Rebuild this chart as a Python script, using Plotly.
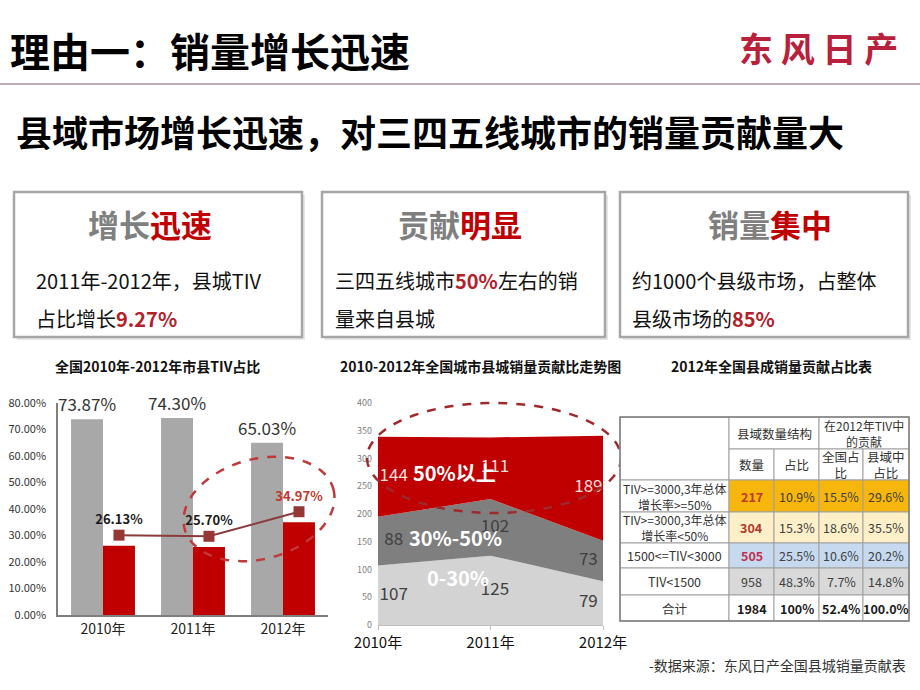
import numpy as np
import plotly.graph_objects as go

W, H = 920, 690
FONT = "Noto Sans CJK SC"

# ---------------- data ----------------
years = ["2010年", "2011年", "2012年"]
city_tiv = [73.87, 74.30, 65.03]          # grey bars
county_tiv = [26.13, 25.70, 34.97]        # red bars / line
county_label_colors = ["#1a1a1a", "#1a1a1a", "#c0392b"]

band_names = ["0-30%", "30%-50%", "50%以上"]
band_low = [107, 125, 79]
band_mid = [88, 102, 73]
band_high = [144, 111, 189]

tbl_rows = ["TIV&gt;=3000,3年总体<br>增长率&gt;=50%", "TIV&gt;=3000,3年总体<br>增长率&lt;50%",
            "1500&lt;=TIV&lt;3000", "TIV&lt;1500", "合计"]
tbl_count = ["217", "304", "505", "958", "1984"]
tbl_share = ["10.9%", "15.3%", "25.5%", "48.3%", "100%"]
tbl_nat = ["15.5%", "18.6%", "10.6%", "7.7%", "52.4%"]
tbl_county = ["29.6%", "35.5%", "20.2%", "14.8%", "100.0%"]
tbl_head_top = ["县域数量结构", "在2012年TIV中<br>的贡献"]
tbl_head_sub = ["数量", "占比", "全国占<br>比", "县域中<br>占比"]

# ---------------- helpers ----------------
def px(x):
    return x / W

def py(y):
    return 1 - y / H

annotations = []
shapes = []

def text(x, y, s, size, color="#000", xanchor="center", yanchor="middle", align="center"):
    annotations.append(dict(x=px(x), y=py(y), xref="paper", yref="paper", text=s,
                            showarrow=False, xanchor=xanchor, yanchor=yanchor, align=align,
                            font=dict(family=FONT, size=size, color=color)))

def rect(x0, y0, x1, y1, fill="rgba(0,0,0,0)", line="rgba(0,0,0,0)", lw=0, layer="above"):
    shapes.append(dict(type="rect", xref="paper", yref="paper", x0=px(x0), x1=px(x1),
                       y0=py(y1), y1=py(y0), fillcolor=fill,
                       line=dict(color=line, width=lw), layer=layer))

def ellipse(cx, cy, a, b, ang_deg, color, width=2.5):
    t = np.linspace(0, 2 * np.pi, 90)
    th = np.deg2rad(ang_deg)
    xs = cx + a * np.cos(t) * np.cos(th) + b * np.sin(t) * np.sin(th)
    ys = cy - a * np.cos(t) * np.sin(th) + b * np.sin(t) * np.cos(th)
    d = "M " + " L ".join(f"{px(x):.5f},{py(y):.5f}" for x, y in zip(xs, ys)) + " Z"
    shapes.append(dict(type="path", xref="paper", yref="paper", path=d,
                       line=dict(color=color, width=width, dash="dash"), layer="above"))

fig = go.Figure()

# ---------------- chart 1: bars + line ----------------
xi = list(range(len(years)))
fig.add_trace(go.Bar(x=xi, y=city_tiv, marker=dict(color="#a8a8a8", line=dict(width=0)),
                     text=[f"{v:.2f}%" for v in city_tiv], textposition="outside",
                     constraintext="none",
                     textfont=dict(family=FONT, size=17, color="#333"), cliponaxis=False,
                     xaxis="x", yaxis="y"))
fig.add_trace(go.Bar(x=xi, y=county_tiv, marker=dict(color="#c00000", line=dict(width=0)),
                     xaxis="x", yaxis="y"))
bar_w = (1 - 0.29) / 2
fig.add_trace(go.Scatter(x=[i + bar_w / 2 for i in xi], y=county_tiv, mode="lines+markers+text",
                         line=dict(color="#8c3b3b", width=2),
                         marker=dict(symbol="square", size=11, color="#953735"),
                         text=[f"<b>{v:.2f}%</b>" for v in county_tiv], textposition="top center",
                         textfont=dict(family=FONT, size=13, color=county_label_colors),
                         cliponaxis=False, xaxis="x", yaxis="y3"))

# ---------------- chart 2: stacked area ----------------
for vals, col in [(band_low, "#d3d3d3"), (band_mid, "#7f7f7f"), (band_high, "#c00000")]:
    fig.add_trace(go.Scatter(x=xi, y=vals, stackgroup="s", mode="lines",
                             line=dict(width=0), fillcolor=col, xaxis="x2", yaxis="y2"))

lab_x = [0.14, 1.04, 1.87]
base = [0, 0, 0]
for vals, col in [(band_low, "#404040"), (band_mid, "#404040"), (band_high, "#f7dede")]:
    mids = [b + v / 2 for b, v in zip(base, vals)]
    fig.add_trace(go.Scatter(x=lab_x, y=mids, mode="text", text=[str(v) for v in vals],
                             textfont=dict(family=FONT, size=17, color=col),
                             cliponaxis=False, xaxis="x2", yaxis="y2"))
    base = [b + v for b, v in zip(base, vals)]

band_lab_pos = [(0.71, 85), (0.69, 157), (0.68, 274)]
for name, (bx, by) in zip(band_names, band_lab_pos):
    annotations.append(dict(x=bx, y=by, xref="x2", yref="y2", text=f"<b>{name}</b>",
                            showarrow=False, font=dict(family=FONT, size=20, color="white")))

# ---------------- header ----------------
text(8, 50, "<b>理由一：销量增长迅速</b>", 40, "#000", xanchor="left")
text(818, 47, "<b>东 风 日 产</b>", 34, "#b8203c")
shapes.append(dict(type="line", xref="paper", yref="paper", x0=0, x1=1, y0=py(84), y1=py(84),
                   line=dict(color="#a7919d", width=1.5)))
text(14, 131, "<b>县域市场增长迅速，对三四五线城市的销量贡献量大</b>", 36, "#000", xanchor="left")

# ---------------- three boxes ----------------
boxes = [
    (14, 302, 150, "增长", "迅速", 34, "2011年-2012年，县城TIV",
     "占比增长<b><span style='color:#b4202a'>9.27%</span></b>"),
    (322, 605, 460, "贡献", "明显", 333, "三四五线城市<b><span style='color:#b4202a'>50%</span></b>左右的销",
     "量来自县城"),
    (620, 908, 770, "销量", "集中", 630, "约1000个县级市场，占整体",
     "县级市场的<b><span style='color:#b4202a'>85%</span></b>"),
]
for x0, x1, hx, h1, h2, tx, l1, l2 in boxes:
    rect(x0 + 3, 195, x1 + 3, 340, fill="#e6e6e6", layer="below")
    rect(x0, 192, x1, 337, fill="white", line="#a6a6a6", lw=2.5)
    text(hx, 224, f"<b><span style='color:#7f7f7f'>{h1}</span><span style='color:#c00000'>{h2}</span></b>", 31)
    text(tx, 280, l1, 20, "#111", xanchor="left")
    text(tx, 318, l2, 20, "#111", xanchor="left")

# ---------------- chart titles ----------------
text(157, 366, "<b>全国2010年-2012年市县TIV占比</b>", 14, "#111")
text(480, 366, "<b>2010-2012年全国城市县城销量贡献比走势图</b>", 14, "#111")
text(771, 366, "<b>2012年全国县成销量贡献占比表</b>", 14, "#111")

# ---------------- ellipses ----------------
ellipse(259, 509, 77, 50, 15, "#c0393b")
ellipse(494, 458, 127, 55, 0, "#9e2a2b")

# ---------------- table ----------------
cx = [620, 729, 774, 819, 863, 909]
ry = [417, 449, 480, 512, 543, 568, 595, 621]
row_fill = ["#f6b60c", "#fdf0c9", "#c6d9ef", "#d9d9d9", "#ffffff"]
count_col = ["#c0392b", "#b03a2a", "#c0304f", "#404040", "#1a1a1a"]
bord = "#a0a0a0"
# header cells
rect(cx[0], ry[0], cx[1], ry[2], fill="white", line=bord, lw=1)
rect(cx[1], ry[0], cx[3], ry[1], fill="white", line=bord, lw=1)
rect(cx[3], ry[0], cx[5], ry[1], fill="white", line=bord, lw=1)
text((cx[1] + cx[3]) / 2, (ry[0] + ry[1]) / 2, tbl_head_top[0], 12.5, "#333")
text((cx[3] + cx[5]) / 2, (ry[0] + ry[1]) / 2, tbl_head_top[1], 12, "#333")
for j, h in enumerate(tbl_head_sub):
    rect(cx[j + 1], ry[1], cx[j + 2], ry[2], fill="white", line=bord, lw=1)
    text((cx[j + 1] + cx[j + 2]) / 2, (ry[1] + ry[2]) / 2, h, 12.5, "#333")
# data rows
for r in range(len(tbl_rows)):
    y0, y1 = ry[2 + r], ry[3 + r]
    ym = (y0 + y1) / 2
    rect(cx[0], y0, cx[1], y1, fill="white", line=bord, lw=1)
    text((cx[0] + cx[1]) / 2, ym, tbl_rows[r], 12 if r < 2 else 12.5, "#333")
    cells = [tbl_count[r], tbl_share[r], tbl_nat[r], tbl_county[r]]
    for j, v in enumerate(cells):
        rect(cx[j + 1], y0, cx[j + 2], y1, fill=row_fill[r], line=bord, lw=1)
        bold = (j == 0 and r != 3) or r == 4
        col = count_col[r] if j == 0 else ("#1a1a1a" if r == 4 else "#404040")
        text((cx[j + 1] + cx[j + 2]) / 2, ym, f"<b>{v}</b>" if bold else v, 12.5, col)
rect(cx[0], ry[0], cx[-1], ry[-1], line="#7f7f7f", lw=1.5)

# ---------------- footer ----------------
text(908, 665, "-数据来源：东风日产全国县城销量贡献表", 14, "#333", xanchor="right")

fig.update_layout(
    width=W, height=H, margin=dict(l=0, r=0, t=0, b=0, pad=0, autoexpand=False), autosize=False,
    paper_bgcolor="white", plot_bgcolor="rgba(0,0,0,0)", showlegend=False,
    font=dict(family=FONT), barmode="group", bargap=0.29, bargroupgap=0,
    xaxis=dict(domain=[px(58), px(328)], range=[-0.5, 2.5], tickvals=xi, ticktext=years,
               showline=True, linecolor="#7f7f7f", linewidth=1.5, showgrid=False,
               zeroline=False, ticks="", tickfont=dict(family=FONT, size=14, color="#222"),
               anchor="y", automargin=False),
    yaxis=dict(domain=[py(615), py(403)], range=[0, 80], tickvals=list(range(0, 81, 10)),
               ticktext=[f"{v:.2f}%" for v in range(0, 81, 10)], showline=True,
               linecolor="#7f7f7f", linewidth=1.5, showgrid=False, zeroline=False,
               ticklabelstandoff=8,
               tickfont=dict(family=FONT, size=11, color="#333"), anchor="x", automargin=False),
    yaxis3=dict(overlaying="y", range=[-4, 76], visible=False, anchor="x"),
    xaxis2=dict(domain=[px(378), px(603)], range=[0, 2], tickvals=xi, ticktext=years,
                showline=True, linecolor="#bfbfbf", showgrid=False, zeroline=False,
                ticks="outside", ticklen=4, tickcolor="#bfbfbf",
                tickfont=dict(family=FONT, size=15, color="#111"), anchor="y2", automargin=False),
    yaxis2=dict(domain=[py(625), py(403)], range=[0, 400], dtick=50, showgrid=False,
                zeroline=False, showline=False, ticks="", ticklabelstandoff=5,
                tickfont=dict(family=FONT, size=9, color="#7f7f7f"), anchor="x2", automargin=False),
    annotations=annotations, shapes=shapes,
)

fig.write_html("out.html")
